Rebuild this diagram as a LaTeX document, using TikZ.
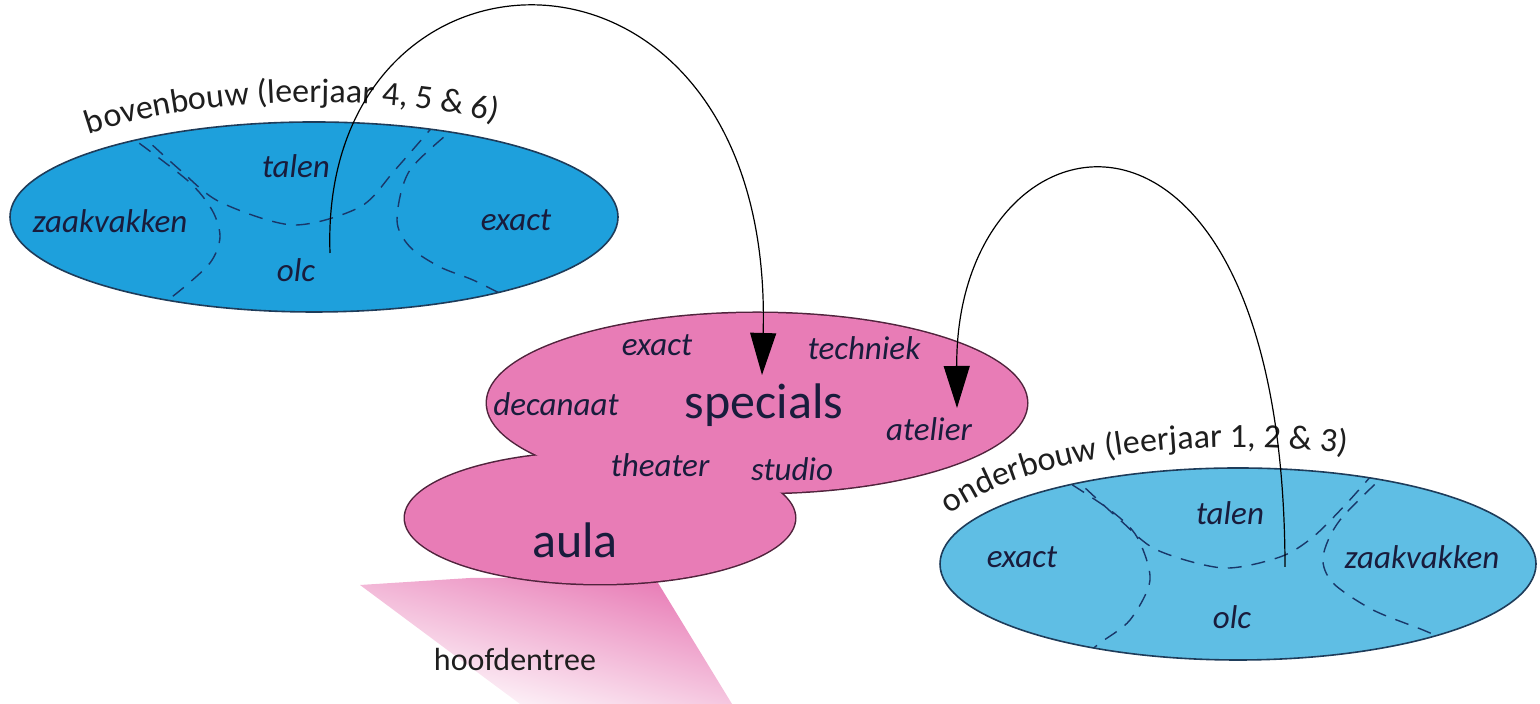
\documentclass[tikz,border=0pt]{standalone}
\usepackage{fontspec}
\setmainfont{Carlito}
\usetikzlibrary{arrows.meta,decorations.text}
\definecolor{bbblue}{RGB}{30,160,220}
\definecolor{obblue}{RGB}{95,190,228}
\definecolor{pinkc}{RGB}{232,124,182}
\definecolor{pinkline}{RGB}{80,35,60}
\definecolor{outl}{RGB}{30,60,90}
\definecolor{dashcol}{RGB}{25,55,105}
\definecolor{lbltext}{RGB}{25,28,60}
\definecolor{captext}{RGB}{30,30,30}
\begin{document}
\begin{tikzpicture}[x=0.5pt,y=0.5pt,
  lbl/.style={font=\fontsize{16.5}{19}\selectfont\itshape, text=lbltext, inner sep=0pt},
  big/.style={font=\fontsize{25}{30}\selectfont, text=lbltext, inner sep=0pt},
  plain/.style={font=\fontsize{16}{19}\selectfont, text=captext, inner sep=0pt},
  dsh/.style={draw=dashcol, dash pattern=on 7pt off 5pt, line width=0.7pt},
  arr/.style={-{Triangle[length=21pt,width=13pt]}, line width=0.6pt, draw=black},
  pinkedge/.style={draw=pinkline, line width=1.5pt},
  blueedge/.style={draw=outl, line width=0.8pt}]
\useasboundingbox (0,0) rectangle (1540,704);
% entrance beam
\shade[top color=pinkc, bottom color=white, shading angle=-15]
  (360,119) -- (470,126) -- (655,126) -- (732,0) -- (520,0) -- cycle;
% pink cloud (specials + aula)
\draw[pinkedge] (757,301) ellipse[x radius=270, y radius=90];
\draw[pinkedge] (600,186) ellipse[x radius=195, y radius=66];
\fill[pinkc] (757,301) ellipse[x radius=270, y radius=90];
\fill[pinkc] (600,186) ellipse[x radius=195, y radius=66];
% bovenbouw
\fill[bbblue] (314,487) ellipse[x radius=304, y radius=95];
\begin{scope}
  \clip (314,487) ellipse[x radius=304, y radius=95];
  \draw[dsh] plot[smooth] coordinates {(120,575) (187,524) (212,494) (220,467) (210,441) (177,411) (150,392)};
  \draw[dsh] plot[smooth] coordinates {(135,575) (180,534) (220,502) (293,479) (360,497) (395,534) (435,580)};
  \draw[dsh] plot[smooth] coordinates {(462,582) (410,534) (397,484) (410,457) (440,437) (473,424) (505,408)};
\end{scope}
\draw[blueedge] (314,487) ellipse[x radius=304, y radius=95];
% onderbouw
\fill[obblue] (1238,140) ellipse[x radius=298, y radius=96];
\begin{scope}
  \clip (1238,140) ellipse[x radius=298, y radius=96];
  \draw[dsh] plot[smooth] coordinates {(1052,232) (1110,194) (1137,167) (1150,124) (1130,84) (1100,61) (1080,45)};
  \draw[dsh] plot[smooth] coordinates {(1068,232) (1120,184) (1157,154) (1223,136) (1280,147) (1313,167) (1347,201) (1378,236)};
  \draw[dsh] plot[smooth] coordinates {(1392,236) (1340,184) (1323,147) (1333,121) (1373,94) (1423,74) (1465,56)};
\end{scope}
\draw[blueedge] (1238,140) ellipse[x radius=298, y radius=96];
% curved captions
\path[decorate, decoration={text along path, text align=left,
  text={|\fontsize{17}{20}\selectfont\color{captext}|bovenbouw (leerjaar 4, 5 {\&} 6)}}]
  (89,569.7) arc[start angle=134, end angle=30, x radius=324, y radius=115];
\path[decorate, decoration={text along path, text align=left,
  text={|\fontsize{17}{20}\selectfont\color{captext}|onderbouw (leerjaar 1, 2 {\&} 3)}}]
  (949.8,189.4) arc[start angle=155, end angle=20, x radius=318, y radius=117];
% labels bovenbouw
\node[lbl] (bbtalen) at (296,538) {talen};
\node[lbl] (bbzaak) at (110,483) {zaakvakken};
\node[lbl] (bbexact) at (516,484) {exact};
\node[lbl] (bbolc) at (296,434) {olc};
% labels onderbouw
\node[lbl] (obtalen) at (1230,191) {talen};
\node[lbl] (obexact) at (1022,147) {exact};
\node[lbl] (obzaak) at (1422,147) {zaakvakken};
\node[lbl] (obolc) at (1232,87) {olc};
% labels pink
\node[lbl] (pexact) at (657,359) {exact};
\node[lbl] (ptech) at (864,356) {techniek};
\node[lbl] (pdec) at (556,300) {decanaat};
\node[big] (spec) at (764,299) {specials};
\node[lbl] (patel) at (929,275) {atelier};
\node[lbl] (pthea) at (660,239) {theater};
\node[lbl] (pstud) at (792,235) {studio};
\node[big] (aula) at (575,164) {aula};
\node[plain] (entree) at (515,44) {hoofdentree};
% arrows
\coordinate (bbsrc) at (330,451);
\coordinate (sptip) at (762,329);
\coordinate (obsrc) at (1285,137);
\coordinate (attip) at (957,296);
\draw[arr] (bbsrc) .. controls (318,789) and (775,800) .. (sptip);
\draw[arr] (obsrc) .. controls (1284,664) and (955,604) .. (attip);
\end{tikzpicture}
\end{document}
